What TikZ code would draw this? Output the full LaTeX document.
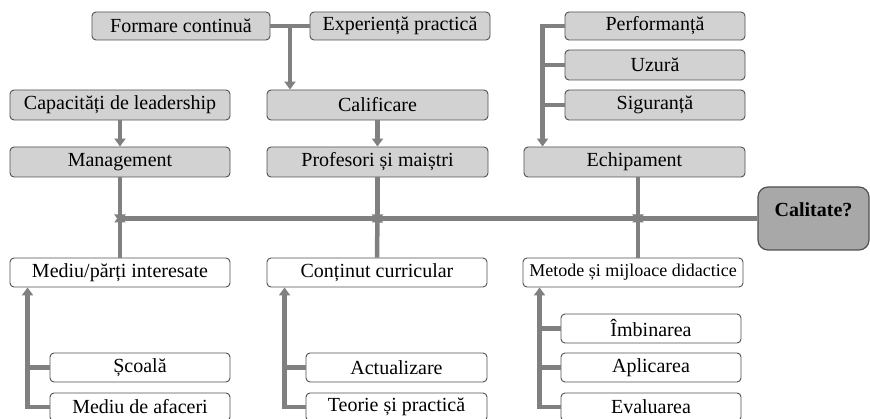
\documentclass[tikz,border=0pt]{standalone}
\usepackage{fontspec}
\setmainfont{Liberation Serif}
\usetikzlibrary{arrows.meta,calc}
\definecolor{linegray}{RGB}{128,128,128}
\definecolor{boxgray}{RGB}{210,210,210}
\definecolor{calgray}{RGB}{168,168,168}
\definecolor{bordergray}{RGB}{80,80,80}
\begin{document}
\begin{tikzpicture}[x=1pt,y=-1pt,
  base/.style={draw=bordergray,line width=0.9pt,rounded corners=4pt,inner sep=0pt,
    font=\fontsize{20}{24}\selectfont,align=center},
  graybox/.style={base,fill=boxgray},
  whitebox/.style={base,fill=white},
  calbox/.style={draw=bordergray,line width=1.2pt,rounded corners=10pt,fill=calgray,
    inner xsep=0pt,inner ysep=0pt,text height=29.5pt,text depth=33.5pt,
    minimum width=111pt,font=\fontsize{20}{24}\selectfont\bfseries},
  conn/.style={draw=linegray,line width=4.5pt},
  arr/.style={conn,-{Triangle[width=11pt,length=8pt]}},
]
\useasboundingbox (0,0) rectangle (870,419);

% top gray boxes
\node[graybox,minimum width=178pt,minimum height=28pt] (formare) at (181,26) {Formare continuă};
\node[graybox,minimum width=180pt,minimum height=28pt] (exp) at (400,26) {Experiență practică};
\node[graybox,minimum width=220pt,minimum height=30pt] (capac) at (120,105) {Capacități de leadership};
\node[graybox,minimum width=221pt,minimum height=30pt] (calif) at (377.5,105) {Calificare};
\node[graybox,minimum width=220pt,minimum height=30pt] (mgmt) at (120,162) {Management};
\node[graybox,minimum width=221pt,minimum height=30pt] (prof) at (377.5,162) {Profesori și maiștri};
\node[graybox,minimum width=180pt,minimum height=28pt] (perf) at (655,26) {Performanță};
\node[graybox,minimum width=180pt,minimum height=30pt] (uzura) at (655,65) {Uzură};
\node[graybox,minimum width=180pt,minimum height=30pt] (sigur) at (655,105) {Siguranță};
\node[graybox,minimum width=221pt,minimum height=30pt] (echip) at (634.5,162) {Echipament};

% quality box
\node[calbox] (cal) at (813.5,218.5) {Calitate?};

% bottom white boxes
\node[whitebox,minimum width=220pt,minimum height=29pt] (mediu) at (120,272.5) {Mediu/părți interesate};
\node[whitebox,minimum width=220pt,minimum height=29pt] (contin) at (377,272.5) {Conținut curricular};
\node[whitebox,minimum width=220pt,minimum height=29pt,font=\fontsize{18}{22}\selectfont] (metode) at (633,272.5) {Metode și mijloace didactice};
\node[whitebox,minimum width=180pt,minimum height=29pt] (scoala) at (140,367.5) {Școală};
\node[whitebox,minimum width=180pt,minimum height=28pt] (afaceri) at (140,407) {Mediu de afaceri};
\node[whitebox,minimum width=181pt,minimum height=29pt] (actual) at (396.5,367.5) {Actualizare};
\node[whitebox,minimum width=181pt,minimum height=28pt] (teorie) at (396.5,407) {Teorie și practică};
\node[whitebox,minimum width=180pt,minimum height=29pt] (imbin) at (651,328.5) {Îmbinarea};
\node[whitebox,minimum width=180pt,minimum height=29pt] (aplic) at (651,367.5) {Aplicarea};
\node[whitebox,minimum width=180pt,minimum height=28pt] (eval) at (651,407) {Evaluarea};

% top connectors
\coordinate (fork) at ($(formare.east)!0.5!(exp.west)$);
\draw[conn] (formare.east) -- (exp.west);
\draw[arr] (fork) -- (fork |- calif.north);
\draw[arr] (capac.south) -- (mgmt.north);
\draw[arr] (calif.south) -- (prof.north);
\coordinate (ex) at ([xshift=19pt]echip.north west);
\draw[arr] (perf.west) -| (ex);
\draw[conn] (uzura.west) -- (uzura.west -| ex);
\draw[conn] (sigur.west) -- (sigur.west -| ex);

% main line
\coordinate (j1) at (mgmt.south |- cal.west);
\coordinate (j2) at (prof.south |- cal.west);
\coordinate (j3) at ([xshift=3.5pt]echip.south |- cal.west);
\draw[conn] ([xshift=-2.25pt]j1) -- (cal.west);
\draw[arr] (mgmt.south) -- ([yshift=-4pt]j1);
\draw[arr] (prof.south) -- ([yshift=-4pt]j2);
\draw[arr] ([xshift=3.5pt]echip.south) -- ([yshift=-4pt]j3);
\draw[arr] (mediu.north) -- ([yshift=4pt]j1);
\draw[arr] (contin.north) -- ([yshift=4pt]j2);
\draw[arr] (metode.north -| j3) -- ([yshift=4pt]j3);

% bottom connectors
\coordinate (mx) at ([xshift=18pt]mediu.south west);
\draw[arr] (afaceri.west) -| (mx);
\draw[conn] (scoala.west) -- (scoala.west -| mx);
\coordinate (cx) at ([xshift=18pt]contin.south west);
\draw[arr] (teorie.west) -| (cx);
\draw[conn] (actual.west) -- (actual.west -| cx);
\coordinate (tx) at ([xshift=17pt]metode.south west);
\draw[arr] (eval.west) -| (tx);
\draw[conn] (aplic.west) -- (aplic.west -| tx);
\draw[conn] (imbin.west) -- (imbin.west -| tx);
\end{tikzpicture}
\end{document}
